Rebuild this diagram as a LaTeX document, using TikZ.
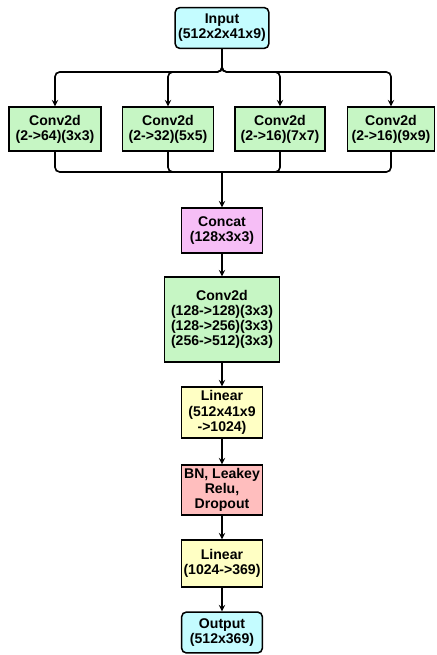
\documentclass[tikz,border=0pt]{standalone}
\usepackage{fontspec}
\setmainfont{Liberation Sans}
\usepackage{tikz}
\usetikzlibrary{arrows, positioning}
\tikzset{>=stealth}
\newcommand{\pxu}{0.8504pt}
\definecolor{incolor}{HTML}{C4FCFF}
\definecolor{convcolor}{HTML}{C6F6C4}
\definecolor{catcolor}{HTML}{F6BEF6}
\definecolor{lincolor}{HTML}{FFFFC4}
\definecolor{bncolor}{HTML}{FFBEBE}
\tikzset{
  block/.style={draw, line width=1.3pt, align=center, inner sep=1pt,
    font=\fontsize{12}{13}\selectfont\bfseries},
  io/.style={block, rounded corners=4pt, fill=incolor},
  link/.style={->, line width=1.4pt, rounded corners=4pt}
}

\begin{document}
\begin{tikzpicture}[x=0.03cm, y=-0.03cm]
\useasboundingbox (0,0) rectangle (436,655);
\node[io, minimum width=94*\pxu, minimum height=41*\pxu] (input) at (222,28) {Input\\(512x2x41x9)};
\node[block, fill=convcolor, minimum width=92*\pxu, minimum height=44*\pxu] (conv1) at (55,129) {Conv2d\\(2->64)(3x3)};
\node[block, fill=convcolor, minimum width=91*\pxu, minimum height=44*\pxu] (conv2) at (168,129) {Conv2d\\(2->32)(5x5)};
\node[block, fill=convcolor, minimum width=90*\pxu, minimum height=44*\pxu] (conv3) at (280,129) {Conv2d\\(2->16)(7x7)};
\node[block, fill=convcolor, minimum width=87*\pxu, minimum height=44*\pxu] (conv4) at (391,129) {Conv2d\\(2->16)(9x9)};
\node[block, fill=catcolor, minimum width=81*\pxu, minimum height=45*\pxu] (concat) at (222,230.5) {Concat\\(128x3x3)};
\node[block, fill=convcolor, minimum width=115*\pxu, minimum height=85*\pxu] (conv5) at (222,319.5) {Conv2d\\(128->128)(3x3)\\(128->256)(3x3)\\(256->512)(3x3)};
\node[block, fill=lincolor, minimum width=81*\pxu, minimum height=51*\pxu] (lin1) at (222,412.5) {Linear\\(512x41x9\\->1024)};
\node[block, fill=bncolor, minimum width=81*\pxu, minimum height=50*\pxu] (bn) at (222,490) {BN, Leakey\\Relu,\\Dropout};
\node[block, fill=lincolor, minimum width=81*\pxu, minimum height=47*\pxu] (lin2) at (222,563.5) {Linear\\(1024->369)};
\node[io, minimum width=81*\pxu, minimum height=41*\pxu] (output) at (222,632.5) {Output\\(512x369)};
% split and merge points
\coordinate (split) at (222,72);
\coordinate (merge) at (222,172);
\foreach \c in {conv1,conv2,conv3,conv4}
  \draw[link] (input.south) -- (split) -| (\c.north);
\foreach \c in {conv1,conv2,conv3,conv4}
  \draw[line width=1.4pt, rounded corners=4pt] (\c.south) |- (merge);
\draw[link] (merge) -- (concat.north);
\draw[link] (concat) -- (conv5);
\draw[link] (conv5) -- (lin1);
\draw[link] (lin1) -- (bn);
\draw[link] (bn) -- (lin2);
\draw[link] (lin2) -- (output);
\end{tikzpicture}
\end{document}
